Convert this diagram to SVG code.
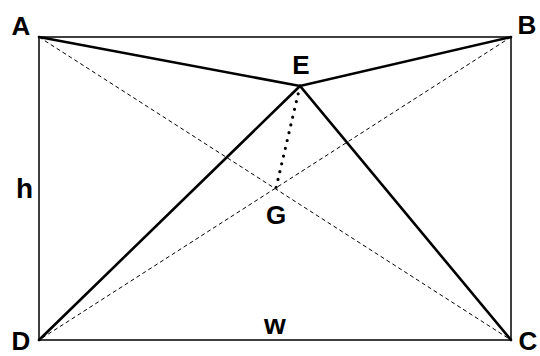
<svg xmlns="http://www.w3.org/2000/svg" width="540" height="356" viewBox="0 0 540 356">
<style>
.lbl{font-family:"Liberation Sans",Arial,sans-serif;font-weight:bold;font-size:26px;fill:#000;text-anchor:middle}
.lc{font-size:28px}
.thin{stroke:#000;stroke-width:1.5;fill:none}
.bold{stroke:#000;stroke-width:2.6;fill:none;stroke-linecap:round}
.dash{stroke:#000;stroke-width:1;fill:none;stroke-dasharray:4 3}
.dot{stroke:#000;stroke-width:3.2;fill:none;stroke-dasharray:0 8;stroke-linecap:round}
</style>
<rect width="540" height="356" fill="#fff"/>
<g id="connectors">
<rect class="thin" x="39" y="37" width="472" height="303"/>
<line class="dash" x1="39" y1="37" x2="511" y2="340"/>
<line class="dash" x1="511" y1="37" x2="39" y2="340"/>
<polyline class="bold" points="39,37 300,86 511,37"/>
<polyline class="bold" points="39,340 300,86 511,340"/>
<line class="dot" x1="300" y1="86" x2="276" y2="188"/>
</g>
<g id="A"><text class="lbl" x="21" y="35">A</text></g>
<g id="B"><text class="lbl" x="527" y="34">B</text></g>
<g id="C"><text class="lbl" x="528" y="350">C</text></g>
<g id="D"><text class="lbl" x="21" y="350">D</text></g>
<g id="E"><text class="lbl" x="301" y="74">E</text></g>
<g id="G"><text class="lbl" x="276" y="224">G</text></g>
<g id="h"><text class="lbl lc" x="24.5" y="198">h</text></g>
<g id="w"><text class="lbl lc" x="275" y="334">w</text></g>
</svg>
